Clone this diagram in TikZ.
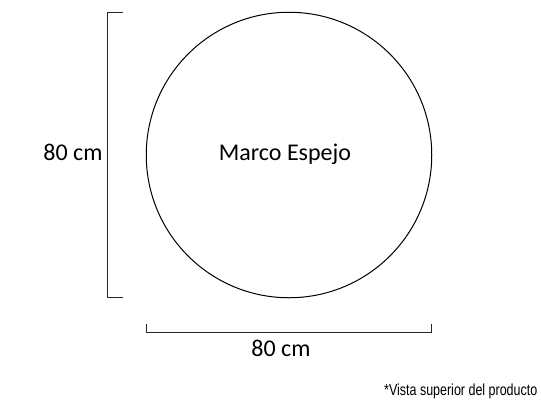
\documentclass[tikz,border=0pt]{standalone}
\usepackage{fontspec}
\setmainfont{Carlito}
\newfontfamily\notefont[FakeStretch=0.78]{Liberation Sans}
\begin{document}
\begin{tikzpicture}[x=1pt, y=-1pt,
  dimline/.style={line width=1.2pt, black!85},
  dimlabel/.style={font=\fontsize{24}{28}\selectfont, inner sep=0pt, anchor=base}]
  \useasboundingbox (0,0) rectangle (541,400);

  % Mirror frame
  \node[circle, draw, line width=1pt, minimum size=285.5pt, inner sep=0pt] (marco) at (289,155) {};
  \node[dimlabel] (marcoText) at (285,160.7) {Marco Espejo};

  % Vertical dimension
  \coordinate (vTop) at (122.5,12.5);
  \coordinate (vBot) at (122.5,297.7);
  \draw[dimline] (vTop) -- (107.3,12.5) -- (107.3,297.7) -- (vBot);
  \node[dimlabel] (vLabel) at (73,160.7) {80 cm};

  % Horizontal dimension
  \coordinate (hLeft) at (146.3,324);
  \coordinate (hRight) at (431.7,324);
  \draw[dimline] (hLeft) -- (146.3,332.7) -- (431.7,332.7) -- (hRight);
  \node[dimlabel] (hLabel) at (281,356) {80 cm};

  % Note
  \node[font=\notefont\fontsize{16}{18}\selectfont, inner sep=0pt, anchor=base west] (nota) at (384,395.7) {*Vista superior del producto};
\end{tikzpicture}
\end{document}
